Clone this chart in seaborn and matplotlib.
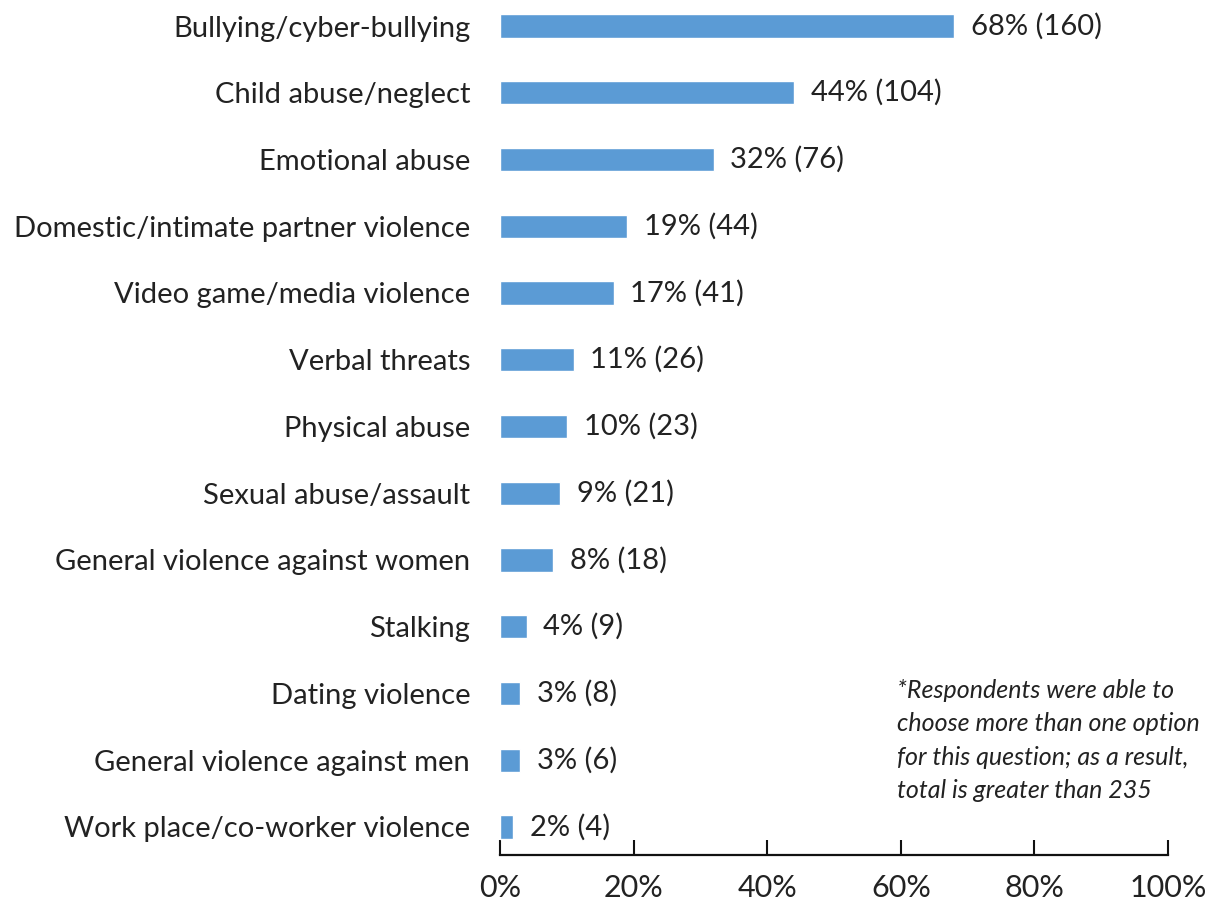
import seaborn as sns
import matplotlib.pyplot as plt
import pandas as pd
from matplotlib.ticker import FuncFormatter

categories = [
    "Bullying/cyber-bullying",
    "Child abuse/neglect",
    "Emotional abuse",
    "Domestic/intimate partner violence",
    "Video game/media violence",
    "Verbal threats",
    "Physical abuse",
    "Sexual abuse/assault",
    "General violence against women",
    "Stalking",
    "Dating violence",
    "General violence against men",
    "Work place/co-worker violence",
]
percents = [68, 44, 32, 19, 17, 11, 10, 9, 8, 4, 3, 3, 2]
counts = [160, 104, 76, 44, 41, 26, 23, 21, 18, 9, 8, 6, 4]
note = ("*Respondents were able to\nchoose more than one option\n"
        "for this question; as a result,\ntotal is greater than 235")

df = pd.DataFrame({"Name": categories, "Pct": percents, "N": counts})

sns.set_style("white")
plt.rcParams["font.family"] = ["Lato", "DejaVu Sans"]

fig = plt.figure(figsize=(12.09, 9.14), dpi=100)
ax = fig.add_axes([0.4136, 0.0646, 0.5525, 0.9354])

sns.barplot(data=df, x="Pct", y="Name", color="#5B9BD5", saturation=1,
            width=0.35, ax=ax)

for i, (p, n) in enumerate(zip(percents, counts)):
    ax.text(p + 2.5, i, f"{p}% ({n})", va="center", ha="left",
            fontsize=21, color="#222222")

ax.set_xlim(0, 100)
ax.set_ylim(12.42, -0.39)
ax.set_xticks(range(0, 101, 20))
ax.xaxis.set_major_formatter(FuncFormatter(lambda v, _: f"{v:.0f}%"))
ax.set_xlabel("")
ax.set_ylabel("")

for s in ["top", "right", "left"]:
    ax.spines[s].set_visible(False)
ax.spines["bottom"].set_linewidth(1.6)
ax.spines["bottom"].set_color("#111111")

ax.tick_params(axis="x", direction="in", length=11, width=1.5,
               color="#111111", labelsize=22, pad=14, bottom=True)
ax.tick_params(axis="y", length=0, labelsize=21, pad=21.5)
for lab in ax.get_xticklabels() + ax.get_yticklabels():
    lab.set_color("#222222")

fig.text(897 / 1209, 1 - 679 / 914, note, fontsize=18, style="italic",
         va="top", ha="left", linespacing=1.55, color="#222222")

fig.savefig("out.png", dpi=100)
